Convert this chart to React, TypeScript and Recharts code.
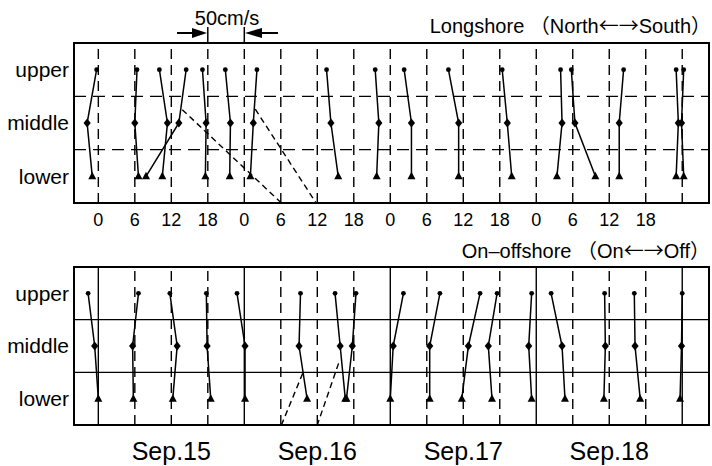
import React from 'react';
import { ScatterChart, Scatter, XAxis, YAxis, ReferenceLine, ReferenceArea } from 'recharts';

// time of each profile in hours from Sep.15 00:00, velocities in cm/s
const LS_TIME = [-1, 6, 11, 13, 17, 21, 25, 38, 46, 51, 59, 67, 76, 78, 86, 95, 96];
const LS_UPPER = [6, 3, -8, 12, 1, -1, 9, -4, -4, -6, -12, -5, 0, -2, 3, 0, 2];
const LS_MIDDLE = [-7, 0, 3, 2, 6, 6, 4, 2, 1, 4, 2, 2, 2, 3, -3, 3, -1];
const LS_LOWER = [0, 5, -4, -43, 5, 5, 0, 12, -2, 4, 2, 8, -5, 31, -3, 0, 2];

const OS_TIME = [0, 6, 12, 18, 24, 33, 40, 42, 48, 54, 60, 64, 71, 76, 83, 88, 96];
const OS_UPPER = [-14, 5, -2, -2, -10, 2, -9, 3, 18, 18, 23, 13, 2, -13, 2, 1, 0];
const OS_MIDDLE = [-5, -3, 8, -1, 1, 0, -2, -2, 4, 4, 7, 1, -2, 2, 3, 2, -1];
const OS_LOWER = [0, -2, 2, 4, 1, 11, 5, -10, 0, 4, -2, 6, 2, 6, 1, 9, -3];

// off-scale vectors (dashed), start hour / start level / hour where they leave the frame
const LS_OFF_START = [13.8, 25.8];
const LS_OFF_LEVEL = [1.25, 1.26];
const LS_OFF_END = [30.1, 35.8];
const OS_OFF_START = [33.6, 39.5];
const OS_OFF_LEVEL = [0.48, 0.67];
const OS_OFF_END = [30.1, 36.0];

const GRID_HOURS = [0, 6, 12, 18, 24, 30, 36, 42, 48, 54, 60, 66, 72, 78, 84, 90, 96];
const HOUR_TICKS = [0, 6, 12, 18, 24, 30, 36, 42, 48, 54, 60, 66, 72, 78, 84, 90];
const DAY_CENTERS = [12, 36, 60, 84];
const DAY_LABELS = ['Sep.15', 'Sep.16', 'Sep.17', 'Sep.18'];
const LEVEL_NAMES = ['lower', 'middle', 'upper'];

const HOURS_PER_CMS = 6 / 50; // 50cm/s bar = one 6h grid step
const X_DOMAIN: [number, number] = [-4, 100.4];
const Y_DOMAIN: [number, number] = [-0.5, 2.5];
const FONT = '"Liberation Sans", Arial, Helvetica, "Noto Sans CJK JP", sans-serif';
const CJK = '"Noto Sans CJK JP", sans-serif';

function buildProfiles(time: number[], up: number[], mid: number[], low: number[]) {
  return time.map((t, i) => [
    { h: t + up[i] * HOURS_PER_CMS, lvl: 2, kind: 'upper' },
    { h: t + mid[i] * HOURS_PER_CMS, lvl: 1, kind: 'middle' },
    { h: t + low[i] * HOURS_PER_CMS, lvl: 0, kind: 'lower' },
  ]);
}

function buildOffscale(start: number[], level: number[], end: number[]) {
  return start.map((s, i) => [
    { h: s, lvl: level[i] },
    { h: end[i], lvl: Y_DOMAIN[0] },
  ]);
}

function Marker(props: any) {
  const { cx, cy, payload } = props;
  if (cx == null || cy == null) return <g />;
  if (payload.kind === 'upper') return <circle cx={cx} cy={cy} r={2.4} fill="#000" />;
  if (payload.kind === 'middle')
    return <polygon points={`${cx},${cy - 4.5} ${cx + 3.6},${cy} ${cx},${cy + 4.5} ${cx - 3.6},${cy}`} fill="#000" />;
  return <polygon points={`${cx},${cy - 4.5} ${cx + 4},${cy + 3} ${cx - 4},${cy + 3}`} fill="#000" />;
}

const NoDot = () => <g />;

interface PanelProps {
  profiles: { h: number; lvl: number; kind: string }[][];
  offscale: { h: number; lvl: number }[][];
  solidFrame: boolean;
  height: number;
  top: number;
  axisHeight: number;
  ticks: number[];
  tickFormatter: (v: number) => string;
  tickFont: number;
  tickMargin: number;
}

function Panel(p: PanelProps) {
  return (
    <ScatterChart width={712} height={p.height} margin={{ top: p.top, right: 3, bottom: 0, left: 0 }}>
      <XAxis
        type="number" dataKey="h" domain={X_DOMAIN} allowDataOverflow ticks={p.ticks}
        tickFormatter={p.tickFormatter} axisLine={false} tickLine={false} tickSize={0}
        tickMargin={p.tickMargin} height={p.axisHeight} interval={0}
        tick={{ fontSize: p.tickFont, fill: '#000' }}
      />
      <YAxis
        type="number" dataKey="lvl" domain={Y_DOMAIN} allowDataOverflow ticks={[0, 1, 2]}
        tickFormatter={(v: number) => LEVEL_NAMES[v]} axisLine={false} tickLine={false}
        tickSize={0} tickMargin={5} width={74} tick={{ fontSize: 21, fill: '#000' }}
      />
      {GRID_HOURS.map(h => (
        <ReferenceLine key={`v${h}`} x={h} stroke="#000" strokeWidth={1.4}
          strokeDasharray={p.solidFrame && h % 24 === 0 ? undefined : '10 6'} />
      ))}
      {[0.5, 1.5].map(y => (
        <ReferenceLine key={`h${y}`} y={y} stroke="#000" strokeWidth={1.4}
          strokeDasharray={p.solidFrame ? undefined : '12 7'} />
      ))}
      <ReferenceArea x1={X_DOMAIN[0]} x2={X_DOMAIN[1]} y1={Y_DOMAIN[0]} y2={Y_DOMAIN[1]}
        fill="none" fillOpacity={0} stroke="#000" strokeWidth={2} />
      {p.offscale.map((seg, i) => (
        <Scatter key={`o${i}`} data={seg} fill="#000" shape={NoDot} isAnimationActive={false}
          line={{ stroke: '#000', strokeWidth: 1.4, strokeDasharray: '6 4' }} />
      ))}
      {p.profiles.map((prof, i) => (
        <Scatter key={`p${i}`} data={prof} fill="#000" shape={Marker} isAnimationActive={false}
          line={{ stroke: '#000', strokeWidth: 1.5 }} />
      ))}
    </ScatterChart>
  );
}

export default function App() {
  const longshore = buildProfiles(LS_TIME, LS_UPPER, LS_MIDDLE, LS_LOWER);
  const onoff = buildProfiles(OS_TIME, OS_UPPER, OS_MIDDLE, OS_LOWER);
  return (
    <div style={{ position: 'absolute', left: 0, top: 0, width: 712, height: 466, background: '#fff', fontFamily: FONT }}>
      <div style={{ position: 'absolute', left: 0, top: 0 }}>
        <Panel
          profiles={longshore} offscale={buildOffscale(LS_OFF_START, LS_OFF_LEVEL, LS_OFF_END)}
          solidFrame={false} height={235} top={43} axisHeight={32} ticks={HOUR_TICKS}
          tickFormatter={(v: number) => String(v % 24)} tickFont={18} tickMargin={10}
        />
      </div>
      <div style={{ position: 'absolute', left: 0, top: 235 }}>
        <Panel
          profiles={onoff} offscale={buildOffscale(OS_OFF_START, OS_OFF_LEVEL, OS_OFF_END)}
          solidFrame height={231} top={32} axisHeight={41} ticks={DAY_CENTERS}
          tickFormatter={(v: number) => DAY_LABELS[DAY_CENTERS.indexOf(v)]} tickFont={25} tickMargin={17}
        />
      </div>
      <svg width={712} height={466} style={{ position: 'absolute', left: 0, top: 0, pointerEvents: 'none' }}>
        <text x={227} y={25} fontSize={20} textAnchor="middle" fill="#000">50cm/s</text>
        <line x1={207.8} y1={27} x2={207.8} y2={43} stroke="#000" strokeWidth={1.5} />
        <line x1={244.3} y1={27} x2={244.3} y2={43} stroke="#000" strokeWidth={1.5} />
        <line x1={177} y1={33} x2={196} y2={33} stroke="#000" strokeWidth={2} />
        <polygon points="192,28 207,33 192,38" fill="#000" />
        <line x1={260} y1={33} x2={278} y2={33} stroke="#000" strokeWidth={2} />
        <polygon points="262,28 245,33 262,38" fill="#000" />
        <text x={711} y={33} fontSize={20} textAnchor="end" fill="#000" style={{ whiteSpace: 'pre' }}>
          Longshore <tspan fontFamily={CJK}>（</tspan>North<tspan fontFamily={CJK}>←→</tspan>South<tspan fontFamily={CJK}>）</tspan>
        </text>
        <text x={710} y={258} fontSize={20} textAnchor="end" fill="#000" style={{ whiteSpace: 'pre' }}>
          On–offshore <tspan fontFamily={CJK}>（</tspan>On<tspan fontFamily={CJK}>←→</tspan>Off<tspan fontFamily={CJK}>）</tspan>
        </text>
      </svg>
    </div>
  );
}
